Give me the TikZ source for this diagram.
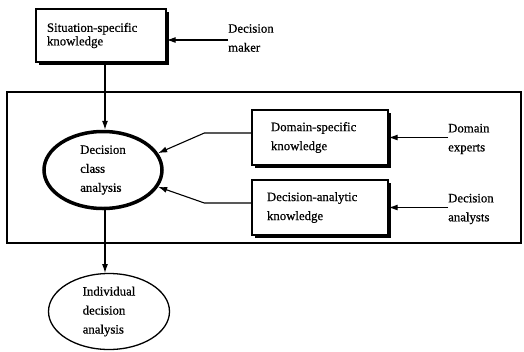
\documentclass[tikz,border=0pt]{standalone}
\usepackage{fontspec}
\setmainfont{Liberation Serif}[FakeBold=0.6]
\usetikzlibrary{shapes.geometric,arrows.meta}
\begin{document}
\begin{tikzpicture}[x=1pt,y=-1pt,
  every node/.style={font=\fontsize{12.8}{19}\selectfont},
  conn/.style={line width=1.1pt,-{Latex[length=9pt,width=6pt]}},
  kbox/.style={draw,fill=white,line width=1.3pt,rectangle,align=left,inner sep=0pt,
    text width=#1},
  oval/.style={draw,ellipse,align=left,inner sep=0pt},
  lbl/.style={align=left,anchor=west,inner sep=0pt}]
\useasboundingbox (0,0) rectangle (524,351);
% outer frame
\draw[line width=1.6pt] (7,92) rectangle (521,243);
% shadows
\fill (39,12) rectangle (169,65);
\fill (255,113) rectangle (391,168);
\fill (255,183) rectangle (391,238);
% boxes
\node[kbox=108pt,minimum width=130pt,minimum height=53pt,font=\fontsize{12.8}{13.5}\selectfont] (sit) at (101,35.5) {Situation-specific\\knowledge};
\node[kbox=98pt,minimum width=136pt,minimum height=55pt] (dsk) at (320,137.5) {Domain-specific\\knowledge};
\node[kbox=106pt,minimum width=136pt,minimum height=55pt] (dak) at (320,207.5) {Decision-analytic\\knowledge};
% ovals
\node[oval,line width=3.5pt,minimum width=118pt,minimum height=77pt] (dca) at (103,170) {Decision\\class\\analysis};
\node[oval,line width=1.3pt,minimum width=121pt,minimum height=76pt] (ida) at (109,311.5) {Individual\\decision\\analysis};
% labels
\node[lbl] (dm) at (228,38) {Decision\\maker};
\node[lbl] (de) at (448,139) {Domain\\experts};
\node[lbl] (da) at (448,209) {Decision\\analysts};
% connectors
\draw[conn] (dm.west |- 0,40) -- (sit.east |- 0,40);
\draw[conn] (de.west |- dsk.east) -- (dsk.east);
\draw[conn] (da.west |- dak.east) -- (dak.east);
\draw[conn] (sit.south -| 105,0) -- (dca.north -| 105,0);
\draw[conn] (dca.south -| 105,0) -- (105,273);
\draw[conn] ([yshift=4.5pt]dsk.west) -- ++(-47,0) -- (dca.17);
\draw[conn] ([yshift=4.5pt]dak.west) -- ++(-47,0) -- (dca.-17);
\end{tikzpicture}
\end{document}
